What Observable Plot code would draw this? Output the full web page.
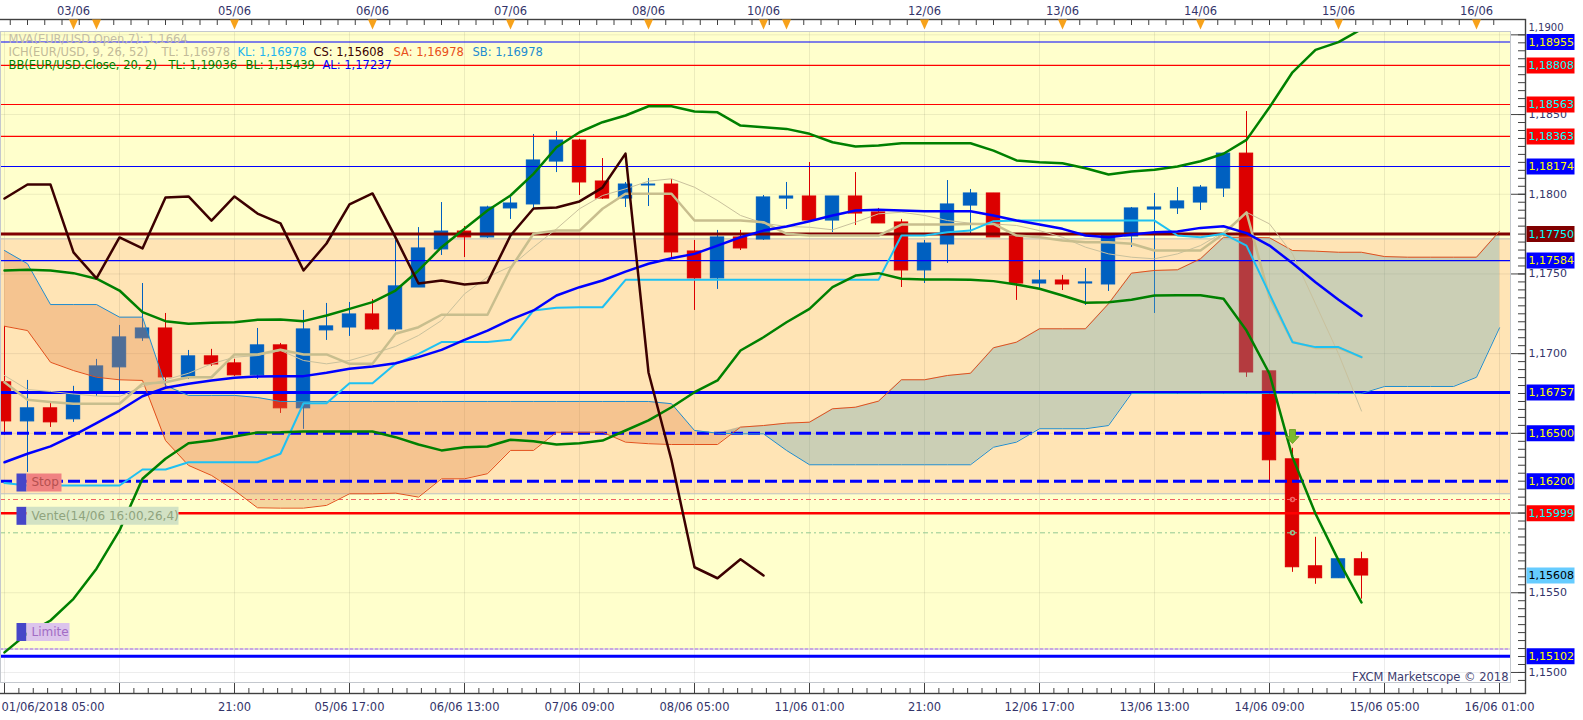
<!DOCTYPE html>
<html><head><meta charset="utf-8">
<script src="https://cdn.jsdelivr.net/npm/d3@7"></script>
<script src="https://cdn.jsdelivr.net/npm/@observablehq/plot@0.6"></script>
<style>html,body{margin:0;padding:0;background:#fff;}#chart svg{display:block;}</style>
</head><body><div id="chart"></div>
<script>
// ---- candles (H4 EUR/USD), bar index 0..59
const opens  = [1.16820,1.16575,1.16657,1.16588,1.16757,1.16914,1.17096,1.17158,1.16851,1.16983,1.16939,1.16864,1.17052,1.16657,1.17146,1.17164,1.17246,1.17152,1.17415,1.17654,1.17766,1.17729,1.17911,1.17936,1.18205,1.18337,1.18080,1.17973,1.18055,1.18061,1.17641,1.17472,1.17729,1.17716,1.17973,1.17986,1.17835,1.17986,1.17886,1.17823,1.17522,1.17685,1.17929,1.18005,1.17735,1.17440,1.17459,1.17440,1.17434,1.17735,1.17904,1.17911,1.17948,1.18036,1.18255,1.16889,1.16337,1.15666,1.15591,1.15710];
const highs  = [1.17171,1.16832,1.16688,1.16795,1.16964,1.17177,1.17440,1.17252,1.17020,1.17027,1.16964,1.17158,1.17064,1.17271,1.17315,1.17321,1.17340,1.17710,1.17791,1.17948,1.17798,1.17925,1.17980,1.18375,1.18393,1.18345,1.18224,1.18074,1.18099,1.18092,1.17710,1.17773,1.17773,1.17992,1.18074,1.18199,1.17986,1.18136,1.17911,1.17842,1.17710,1.18086,1.18030,1.18005,1.17735,1.17522,1.17491,1.17534,1.17748,1.17917,1.18005,1.18042,1.18055,1.18255,1.18519,1.16889,1.16406,1.15848,1.15710,1.15754];
const lows   = [1.16487,1.16255,1.16537,1.16569,1.16732,1.16757,1.17077,1.16782,1.16838,1.16920,1.16857,1.16838,1.16625,1.16525,1.17083,1.17108,1.17146,1.17139,1.17415,1.17616,1.17603,1.17723,1.17842,1.17911,1.18136,1.17992,1.17967,1.17917,1.17923,1.17591,1.17271,1.17403,1.17647,1.17710,1.17904,1.17835,1.17760,1.17804,1.17817,1.17415,1.17440,1.17566,1.17741,1.17729,1.17334,1.17409,1.17396,1.17302,1.17390,1.17666,1.17252,1.17873,1.17898,1.17980,1.16851,1.16186,1.15628,1.15553,1.15591,1.15460];
const closes = [1.16575,1.16657,1.16569,1.16751,1.16920,1.17102,1.17158,1.16851,1.16983,1.16932,1.16864,1.17052,1.16657,1.17152,1.17171,1.17246,1.17152,1.17422,1.17660,1.17766,1.17729,1.17917,1.17942,1.18212,1.18337,1.18074,1.17973,1.18061,1.18061,1.17635,1.17472,1.17729,1.17660,1.17980,1.17986,1.17835,1.17986,1.17879,1.17817,1.17522,1.17691,1.17936,1.18005,1.17729,1.17440,1.17459,1.17434,1.17447,1.17741,1.17911,1.17917,1.17955,1.18042,1.18255,1.16882,1.16331,1.15660,1.15591,1.15710,1.15608];

// ---- Bollinger bands (20, 2)
const bbUpper  = [1.17522,1.17526,1.17522,1.17505,1.17470,1.17396,1.17260,1.17204,1.17187,1.17194,1.17197,1.17212,1.17214,1.17204,1.17239,1.17281,1.17323,1.17396,1.17522,1.17668,1.17783,1.17898,1.17992,1.18128,1.18295,1.18389,1.18452,1.18494,1.18552,1.18552,1.18519,1.18514,1.18431,1.18420,1.18410,1.18379,1.18326,1.18299,1.18306,1.18320,1.18320,1.18320,1.18320,1.18274,1.18212,1.18201,1.18195,1.18163,1.18124,1.18143,1.18153,1.18174,1.18207,1.18254,1.18341,1.18546,1.18765,1.18906,1.18954,1.19036];
const bbLower  = [1.15126,1.15245,1.15326,1.15462,1.15651,1.15891,1.16215,1.16341,1.16438,1.16455,1.16480,1.16506,1.16507,1.16512,1.16512,1.16512,1.16512,1.16476,1.16430,1.16393,1.16413,1.16418,1.16460,1.16451,1.16430,1.16438,1.16455,1.16518,1.16581,1.16664,1.16758,1.16832,1.17020,1.17103,1.17197,1.17281,1.17417,1.17490,1.17505,1.17470,1.17465,1.17465,1.17463,1.17455,1.17434,1.17407,1.17365,1.17319,1.17323,1.17338,1.17365,1.17367,1.17367,1.17344,1.17145,1.16874,1.16351,1.15996,1.15703,1.15439];
const bbMiddle = [1.16319,1.16372,1.16418,1.16487,1.16564,1.16643,1.16733,1.16786,1.16811,1.16832,1.16849,1.16857,1.16859,1.16859,1.16880,1.16905,1.16919,1.16940,1.16978,1.17024,1.17087,1.17145,1.17214,1.17271,1.17365,1.17417,1.17459,1.17515,1.17564,1.17599,1.17626,1.17678,1.17730,1.17772,1.17798,1.17831,1.17867,1.17898,1.17902,1.17898,1.17894,1.17894,1.17894,1.17867,1.17835,1.17810,1.17783,1.17741,1.17730,1.17747,1.17762,1.17766,1.17789,1.17799,1.17756,1.17678,1.17567,1.17448,1.17338,1.17237];

// ---- Ichimoku (9, 26, 52)
const tenkan = [1.16821,1.16711,1.16696,1.16686,1.16686,1.16686,1.16811,1.16821,1.16852,1.16852,1.16995,1.16995,1.17024,1.16995,1.16995,1.16936,1.16936,1.17125,1.17166,1.17244,1.17244,1.17244,1.17534,1.17752,1.17772,1.17772,1.17909,1.18003,1.18003,1.18003,1.17835,1.17835,1.17835,1.17825,1.17752,1.17741,1.17741,1.17741,1.17741,1.17810,1.17810,1.17810,1.17814,1.17814,1.17741,1.17730,1.17710,1.17699,1.17699,1.17689,1.17647,1.17647,1.17647,1.17752,1.17886,1.17353,1.17074,1.17036,1.17036,1.16978];
const kijun  = [1.16188,1.16173,1.16173,1.16173,1.16173,1.16173,1.16273,1.16273,1.16319,1.16319,1.16319,1.16319,1.16372,1.16689,1.16689,1.16815,1.16815,1.16936,1.16999,1.17073,1.17073,1.17073,1.17087,1.17271,1.17288,1.17291,1.17291,1.17463,1.17463,1.17463,1.17463,1.17463,1.17463,1.17463,1.17463,1.17463,1.17463,1.17463,1.17463,1.17741,1.17741,1.17762,1.17772,1.17831,1.17835,1.17835,1.17835,1.17835,1.17835,1.17835,1.17835,1.17741,1.17730,1.17752,1.17678,1.17375,1.17072,1.17041,1.17041,1.16978];
const chikou = [1.17973,1.18061,1.18061,1.17635,1.17472,1.17729,1.17660,1.17980,1.17986,1.17835,1.17986,1.17879,1.17817,1.17522,1.17691,1.17936,1.18005,1.17729,1.17440,1.17459,1.17434,1.17447,1.17741,1.17911,1.17917,1.17955,1.18042,1.18255,1.16882,1.16331,1.15660,1.15591,1.15710,1.15608];
const senkouA = [1.17172,1.17145,1.16946,1.16894,1.16852,1.16836,1.16832,1.16455,1.16299,1.16236,1.16142,1.16033,1.16031,1.16031,1.16048,1.16121,1.16121,1.16125,1.16100,1.16215,1.16215,1.16247,1.16393,1.16393,1.16507,1.16507,1.16507,1.16445,1.16435,1.16430,1.16430,1.16430,1.16539,1.16549,1.16564,1.16570,1.16654,1.16664,1.16702,1.16836,1.16836,1.16863,1.16877,1.17037,1.17072,1.17156,1.17156,1.17156,1.17313,1.17505,1.17522,1.17526,1.17595,1.17730,1.17730,1.17727,1.17647,1.17643,1.17636,1.17636,1.17609,1.17605,1.17605,1.17605,1.17605,1.17768];
const senkouB = [1.17647,1.17564,1.17308,1.17308,1.17308,1.17229,1.17229,1.16800,1.16738,1.16738,1.16738,1.16725,1.16700,1.16700,1.16700,1.16700,1.16700,1.16700,1.16700,1.16700,1.16700,1.16700,1.16700,1.16700,1.16700,1.16700,1.16700,1.16700,1.16700,1.16686,1.16518,1.16501,1.16497,1.16497,1.16393,1.16303,1.16303,1.16303,1.16303,1.16303,1.16303,1.16303,1.16303,1.16413,1.16445,1.16529,1.16529,1.16529,1.16549,1.16750,1.16750,1.16750,1.16750,1.16750,1.16750,1.16750,1.16750,1.16750,1.16750,1.16750,1.16794,1.16794,1.16794,1.16794,1.16852,1.17162];

// ---- MVA(Open, 7)
const mva7 = [1.16863,1.16775,1.16763,1.16747,1.16734,1.16731,1.16794,1.16836,1.16877,1.16936,1.16978,1.16988,1.17020,1.16957,1.16936,1.16957,1.16999,1.17045,1.17114,1.17208,1.17375,1.17480,1.17547,1.17668,1.17783,1.17909,1.17992,1.18034,1.18082,1.18097,1.18044,1.17961,1.17867,1.17818,1.17798,1.17793,1.17777,1.17825,1.17877,1.17887,1.17867,1.17835,1.17818,1.17814,1.17804,1.17772,1.17730,1.17668,1.17626,1.17605,1.17595,1.17626,1.17678,1.17762,1.17887,1.17814,1.17626,1.17313,1.16999,1.16640];

// ---- horizontal price levels
const levelPrices = [1.18955,1.18808,1.18563,1.18363,1.18174,1.17750,1.17584,1.16757,1.16500,1.16200,1.16085,1.15999,1.15876,1.15147,1.15102];
const levelColors = ["#0000FF","#FF0000","#FF0000","#FF0000","#0000FF","#800000","#0000FF","#0000FF","#0000FF","#0000FF","#F06464","#FF0000","#92C892","#C8A6E2","#0000FF"];
const levelWidths = [1.2,1.2,1.2,1.2,1.2,3,1.2,3,3,3,1,2.5,1,2,3];
const levelDashes = [null,null,null,null,null,null,null,null,"12,5","12,5","5,3,2,3",null,"5,3,2,3","3,2",null];

// ---- right-hand price tags
const tagPrices = [1.18955,1.18808,1.18563,1.18363,1.18174,1.17750,1.17584,1.16757,1.16500,1.16200,1.15999,1.15608,1.15102];
const tagBg = ["#0000FF","#FF0000","#FF0000","#FF0000","#0000FF","#800000","#0000FF","#0000FF","#0000FF","#0000FF","#FF0000","#66CCFF","#0000FF"];
const tagFg = ["#FFFF00","#00FFFF","#00FFFF","#00FFFF","#FFFF00","#00FFFF","#FFFF00","#FFFF00","#FFFF00","#FFFF00","#00FFFF","#000000","#FFFF00"];

// ---- order labels
const orderLabels = ["Stop","Vente(14/06 16:00,26,4)","Limite"];
const orderPrices = [1.16085,1.15876,1.15147];
const orderBoxColors = ["#F08282","#D2E2C4","#DCC4EC"];
const orderTextColors = ["#B45050","#8FA47E","#A26CC4"];
const orderBoxWidths = [35,152,43];

// ---- axes
const priceTicks = [1.1500,1.1550,1.1600,1.1650,1.1700,1.1750,1.1800,1.1850,1.1900];
const priceTickLabels = [1.1500,1.1550,1.1700,1.1750,1.1800,1.1850];
const topPriceLabel = [1.1900];
const gridBars = [0,5,10,15,20,25,30,35,40,45,50,55,60,65];
const bottomLabelBars = [10,15,20,25,30,35,40,45,50,55,60,65];
const bottomLabelTexts = ["21:00","05/06 17:00","06/06 13:00","07/06 09:00","08/06 05:00","11/06 01:00","21:00","12/06 17:00","13/06 13:00","14/06 09:00","15/06 05:00","16/06 01:00"];
const firstBottomLabel = "01/06/2018 05:00";
const topLabelBars = [3,10,16,22,28,33,40,46,52,58,64];
const topLabelTexts = ["03/06","05/06","06/06","07/06","08/06","10/06","12/06","13/06","14/06","15/06","16/06"];
const topMarkerBars = [3,4,10,16,22,28,33,34,40,46,52,58,64];

// ---- legend
const legendTexts = ["MVA(EUR/USD.Open,7): 1,1664","ICH(EUR/USD, 9, 26, 52)","TL: 1,16978","KL: 1,16978","CS: 1,15608","SA: 1,16978","SB: 1,16978","BB(EUR/USD.Close, 20, 2)","TL: 1,19036","BL: 1,15439","AL: 1,17237"];
const legendColors = ["#C4BEA6","#C2BA98","#C2BA98","#22B4EE","#3A0000","#E8501A","#1E8CD0","#008000","#008000","#008000","#0000FF"];
const legendDx = [8,8,161,237,313,393,472,8,168,245,322];
const legendRow = [0,1,1,1,1,1,1,2,2,2,2];

// ---- zones
const zoneLo = [1.15147, 1.16121];
const zoneHi = [1.19100, 1.17720];
const zoneFill = ["#FFFFCC", "#FFE4B5"];

const sellMarker = [{i: 56, price: 1.16480}];
const orderDots = [{i: 56, price: 1.16085, c: "#F06464"}, {i: 56, price: 1.15876, c: "#92C892"}];

// scale domains
const xDomain = [-0.174, 65.478];
const yDomain = [1.14937, 1.19021];

// ------------------------------------------------------------
const UP = "#0060C0", DN = "#DC0000";
const fmtP = (v, n) => v.toFixed(n).replace(".", ",");
const candles = opens.map((o, i) => ({i, o, h: highs[i], l: lows[i], c: closes[i], col: closes[i] >= o ? UP : DN}));
const cloud = senkouA.map((a, i) => ({i, a, b: senkouB[i]}));
const zones = zoneLo.map((lo, k) => ({lo, hi: zoneHi[k], fill: zoneFill[k]}));
const tags = tagPrices.map((p, k) => ({p, bg: tagBg[k], fg: tagFg[k]}));
const gridPrices = priceTicks;
const minorPrices = d3.range(0, 82).map(k => +(1.1495 + k * 0.0005).toFixed(4)).filter(p => p >= yDomain[0] && p <= yDomain[1]);
const bottomMinor = d3.range(0, 105).map(k => k * 0.625).filter(b => b <= 65.4);
const topTicks = d3.range(0, 90).map(k => -0.5 + k * 0.75).filter(b => b >= xDomain[0] && b <= xDomain[1]);

const rectSym = (w, h) => ({draw(ctx) { ctx.moveTo(0, -h / 2); ctx.lineTo(w, -h / 2); ctx.lineTo(w, h / 2); ctx.lineTo(0, h / 2); ctx.closePath(); }});
const triDown = {draw(ctx) { ctx.moveTo(-4.5, -5); ctx.lineTo(4.5, -5); ctx.lineTo(0, 5); ctx.closePath(); }};
const arrowDown = {draw(ctx) { ctx.moveTo(-3, -7); ctx.lineTo(3, -7); ctx.lineTo(3, 0); ctx.lineTo(6.5, 0); ctx.lineTo(0, 7); ctx.lineTo(-6.5, 0); ctx.lineTo(-3, 0); ctx.closePath(); }};

const AXIS_TXT = "#34346A";
const levelMarks = levelPrices.map((p, k) => Plot.ruleY([p], {stroke: levelColors[k], strokeWidth: levelWidths[k], strokeDasharray: levelDashes[k] || undefined}));
const legendMarks = legendTexts.map((t, k) => Plot.text([t], {text: d => d, frameAnchor: "top-left", dx: legendDx[k], dy: 8 + legendRow[k] * 12.8, lineAnchor: "middle", textAnchor: "start", fill: legendColors[k], fontSize: 11.5}));
const orderMarks = orderLabels.flatMap((lab, k) => {
  const d = [{p: orderPrices[k], t: lab}];
  return [
    Plot.dot(d, {y: "p", frameAnchor: "left", dx: 16, dy: -17, symbol: rectSym(10, 18), fill: "#4646C8"}),
    Plot.dot(d, {y: "p", frameAnchor: "left", dx: 26, dy: -17, symbol: rectSym(orderBoxWidths[k], 18), fill: orderBoxColors[k]}),
    Plot.text(d, {y: "p", text: "t", frameAnchor: "left", dx: 31, dy: -17, textAnchor: "start", fill: orderTextColors[k], fontSize: 12})
  ];
});

const chart = Plot.plot({
  width: 1583, height: 720,
  marginTop: 31, marginRight: 73, marginBottom: 38, marginLeft: 0,
  x: {type: "linear", domain: xDomain, axis: null},
  y: {type: "linear", domain: yDomain, axis: null},
  color: {type: "identity"},
  style: {fontFamily: "'DejaVu Sans', Verdana, sans-serif", background: "#ffffff", overflow: "visible"},
  marks: [
    Plot.rect(zones, {y1: "lo", y2: "hi", fill: "fill", clip: true}),
    Plot.ruleX(gridBars, {stroke: "#000", strokeOpacity: 0.075}),
    Plot.ruleY(gridPrices, {stroke: "#000", strokeOpacity: 0.075}),
    Plot.ruleY([zoneLo[1], zoneHi[1], zoneLo[0]], {stroke: "#BEBEBE"}),
    // candles
    Plot.ruleX(candles, {x: "i", y1: "l", y2: "h", stroke: "col"}),
    Plot.rect(candles, {x1: d => d.i - 0.29, x2: d => d.i + 0.29, y1: "o", y2: "c", fill: "col", stroke: "col"}),
    // ichimoku cloud (translucent, over the candles)
    Plot.areaY(cloud, {x: "i", y1: "a", y2: d => Math.max(d.a, d.b), fill: "#E2894B", fillOpacity: 0.35, clip: true}),
    Plot.areaY(cloud, {x: "i", y1: "b", y2: d => Math.max(d.a, d.b), fill: "#6AA8B5", fillOpacity: 0.35, clip: true}),
    // price levels
    ...levelMarks,
    // indicators
    Plot.lineY(senkouA, {stroke: "#E2501C", strokeWidth: 1, clip: true}),
    Plot.lineY(senkouB, {stroke: "#1E8DD0", strokeWidth: 1, clip: true}),
    Plot.lineY(mva7, {stroke: "#C9C19D", strokeWidth: 1}),
    Plot.lineY(tenkan, {stroke: "#C8BE8E", strokeWidth: 2.5}),
    Plot.lineY(kijun, {stroke: "#1FC1F2", strokeWidth: 2}),
    Plot.lineY(bbMiddle, {stroke: "#0000FF", strokeWidth: 2.5}),
    Plot.lineY(bbUpper, {stroke: "#008000", strokeWidth: 2.5, clip: true}),
    Plot.lineY(bbLower, {stroke: "#008000", strokeWidth: 2.5}),
    Plot.lineY(chikou, {stroke: "#3C0000", strokeWidth: 2.5}),
    // order markers
    Plot.dot(orderDots, {x: "i", y: "price", r: 2, stroke: "c", fill: "none"}),
    Plot.dot(sellMarker, {x: "i", y: "price", symbol: arrowDown, fill: "#7CBA2E", stroke: "#5E9A1E", strokeWidth: 0.8}),
    // frames
    Plot.frame({stroke: "#C4C8CE"}),
    Plot.frame({stroke: "#404040", strokeWidth: 1.4, insetTop: -12, insetRight: -15, insetBottom: -11, insetLeft: -4}),
    // right axis
    Plot.ruleY(priceTicks, {insetLeft: 1511, insetRight: -15, stroke: "#404040"}),
    Plot.ruleY(minorPrices, {insetLeft: 1518, insetRight: -15, stroke: "#404040"}),
    Plot.text(priceTickLabels, {y: d => d, text: d => fmtP(d, 4), frameAnchor: "right", dx: 18, textAnchor: "start", fill: AXIS_TXT, fontSize: 11}),
    Plot.text(topPriceLabel, {y: d => d, text: d => fmtP(d, 4), frameAnchor: "right", dx: 18, dy: -7, textAnchor: "start", fill: AXIS_TXT, fontSize: 10}),
    // bottom axis
    Plot.ruleX(gridBars, {insetTop: 652, insetBottom: -11, stroke: "#404040"}),
    Plot.ruleX(bottomMinor, {insetTop: 657, insetBottom: -11, stroke: "#404040"}),
    Plot.text(bottomLabelBars, {x: d => d, text: (d, k) => bottomLabelTexts[k], frameAnchor: "bottom", dy: 20, lineAnchor: "top", fill: AXIS_TXT, fontSize: 11.5}),
    Plot.text([firstBottomLabel], {text: d => d, frameAnchor: "bottom-left", dx: 1, dy: 20, lineAnchor: "top", textAnchor: "start", fill: AXIS_TXT, fontSize: 11.5}),
    // top axis
    Plot.ruleX(topTicks, {insetTop: -12, insetBottom: 657, stroke: "#404040"}),
    Plot.text(topLabelBars, {x: d => d, text: (d, k) => topLabelTexts[k], frameAnchor: "top", dy: -17, lineAnchor: "bottom", fill: AXIS_TXT, fontSize: 11.5}),
    Plot.dot(topMarkerBars, {x: d => d, frameAnchor: "top", dy: -7, symbol: triDown, fill: "#F7A21B"}),
    // legend
    ...legendMarks,
    // order labels
    ...orderMarks,
    // right price tags
    Plot.dot(tags, {y: "p", frameAnchor: "right", dx: 16, symbol: rectSym(48, 16), fill: "bg"}),
    Plot.text(tags, {y: "p", text: d => fmtP(d.p, 5), frameAnchor: "right", dx: 18, textAnchor: "start", fill: "fg", fontSize: 11}),
    // watermark
    Plot.text(["FXCM Marketscope © 2018"], {text: d => d, frameAnchor: "bottom-right", dx: -2, dy: -2, lineAnchor: "bottom", textAnchor: "end", fill: "#3C3C6E", fontSize: 11.5})
  ]
});
document.getElementById("chart").append(chart);
</script>
</body></html>
